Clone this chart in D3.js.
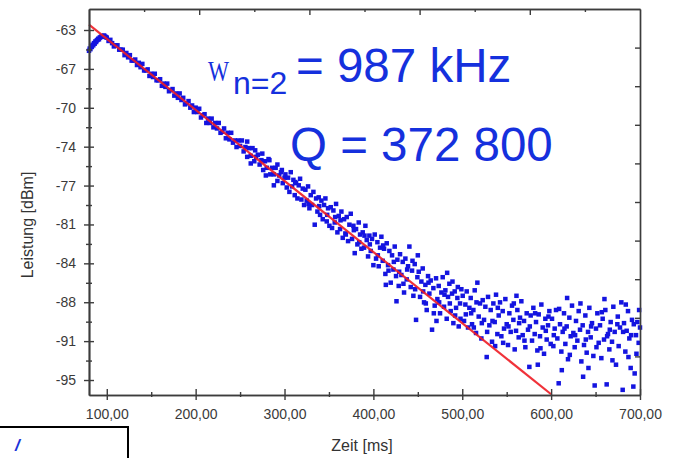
<!DOCTYPE html>
<html><head><meta charset="utf-8">
<script src="https://cdn.jsdelivr.net/npm/d3@7"></script>
<style>html,body{margin:0;padding:0;background:#fff;overflow:hidden}</style>
</head><body>
<svg id="c" width="675" height="458"></svg>
<script>
// ---- data (time in ms, power in dBm) ----
const risePts = [[80,-64.9],[80.8,-64.7],[81.6,-64.75],[82.4,-64.5],[83.2,-64.55],[84,-64.35],[84.8,-64.4],[85.6,-64.2],[86.4,-64.25],[87.2,-64.05],[88,-64.1],[88.8,-63.95],[89.6,-63.9],[90.4,-63.8],[91.2,-63.85],[92,-63.7],[93,-63.65],[94,-63.6],[95,-63.55],[96,-63.6],[97,-63.5],[98,-63.6],[99,-63.65]];
const bandPts = [[100,-63.7],[102,-64.0],[104,-63.9],[106,-64.2],[108,-64.5],[110,-64.4],[112,-64.4],[114,-64.8],[116,-64.8],[118,-64.8],[120,-65.3],[122,-65.1],[124,-65.5],[126,-65.3],[128,-65.8],[130,-65.8],[132,-65.7],[134,-66.2],[136,-66.0],[138,-66.4],[140,-66.1],[142,-66.7],[144,-66.7],[146,-66.6],[148,-67.2],[150,-67.0],[152,-67.3],[154,-67.0],[156,-67.6],[158,-67.6],[160,-67.5],[162,-68.1],[164,-67.9],[166,-68.2],[168,-67.9],[170,-68.6],[172,-68.5],[174,-68.4],[176,-69.0],[178,-68.8],[180,-69.2],[182,-68.8],[184,-69.4],[186,-69.2],[188,-69.8],[190,-69.7],[192,-69.5],[194,-70.1],[196,-69.9],[198,-70.5],[200,-70.1],[202,-70.5],[204,-70.2],[206,-71.0],[208,-70.8],[210,-70.7],[212,-71.5],[214,-71.1],[216,-71.5],[218,-71.1],[220,-71.9],[222,-71.5],[224,-72.0],[226,-71.5],[228,-72.4],[230,-72.3],[232,-72.0],[234,-72.9],[236,-72.4],[238,-73.0],[240,-72.4],[242,-73.3],[244,-73.1],[246,-73.7],[248,-73.1],[250,-73.6],[252,-73.1],[254,-74.1],[256,-73.7],[258,-74.6],[260,-73.8],[262,-74.5],[264,-73.8],[266,-75.0],[268,-74.6],[270,-74.4],[272,-75.3],[274,-74.9],[276,-75.8],[278,-75.0],[280,-75.6],[282,-74.8],[284,-76.2],[286,-75.6],[288,-76.2],[290,-75.6],[292,-76.8],[294,-76.3],[296,-76.0],[298,-77.0],[300,-76.5],
[258,-73.2],[267,-74.0],[275,-74.3],[283,-74.9],[292,-75.3],[297,-75.8],[288,-77.2],[279,-76.3],[262,-75.2]];
const spreadPts = [[301,-76.2],[302.5,-77.4],[304,-76.5],[305.5,-77.8],[307,-76.0],[308.5,-77.3],[310,-76.7],[311.5,-78.1],[313,-77.0],[314.5,-78.4],[316,-77.2],[317.5,-76.6],[319,-78.5],[320.5,-77.5],[322,-79.0],[323.5,-77.6],[325,-78.6],[326.5,-77.3],[328,-79.3],[329.5,-78.1],[331,-79.0],[332.5,-77.8],[334,-80.8],[335.5,-78.4],[337,-79.6],[338.5,-78.3],[340,-79.9],[341.5,-78.6],[343,-80.3],[344.5,-79.0],[346,-78.4],[347.5,-80.5],[349,-79.3],[350.5,-80.9],[352,-79.2],[353.5,-81.1],[355,-79.5],[356.5,-80.6],[358,-78.9],[359.5,-81.5],[361,-80.0],[362.5,-81.2],[364,-79.6],[365.5,-82.0],[367,-80.3],[368.5,-81.6],[370,-80.1],[371.5,-82.3],[373,-80.8],[374.5,-79.8],[376,-82.1],[377.5,-80.9],[379,-83.4],[380.5,-81.2],[382,-82.6],[383.5,-80.6],[385,-81.7],[386.5,-83.0],[388,-81.5],[389.5,-82.9],[391,-80.9],[392.5,-82.2],[394,-83.7],[395.5,-81.8],[397,-83.2],[398.5,-82.1],[400,-84.5],
[312,-76.9],[327,-78.9],[339,-79.1],[348,-79.9],[357,-80.1],[363,-80.4],[369,-81.7],[378,-81.3],[384,-82.4],[390,-81.8],[396,-82.6],
[401.5,-81.7],[403,-83.9],[404.5,-82.4],[406,-84.6],[407.5,-82.9],[409,-81.9],[410.5,-84.1],[412,-83.0],[413.5,-85.3],[415,-82.5],[416.5,-84.5],[418,-83.2],[419.5,-86.1],[421,-83.6],[422.5,-84.9],[424,-82.8],[425.5,-85.5],[427,-84.0],[428.5,-86.4],[430,-83.5],[431.5,-85.4],[433,-84.2],[434.5,-87.0],[436,-83.9],[437.5,-85.8],[439,-84.6],[440.5,-82.8],[442,-86.5],[443.5,-85.0],[445,-87.3],[446.5,-84.4],[448,-89.5],[449.5,-85.6],
[405,-83.6],[411,-82.7],[417,-85.0],[423,-84.2],[429,-85.1],[433.8,-86.2],[438,-84.9],[444,-84.1],[447,-86.7],[450,-83.6],[426,-87.8],[414,-86.3],
[451,-85.1],[452.5,-87.4],[454,-86.0],[455.5,-84.8],[457,-87.9],[458.5,-86.3],[460,-88.6],[461.5,-85.5],[463,-87.1],[464.5,-85.9],[466,-90.4],[467.5,-86.6],[469,-88.2],[470.5,-85.7],[472,-87.6],[473.5,-86.4],[475,-88.9],[476.5,-87.0],[478,-85.6],[479.5,-88.3],[481,-86.8],[482.5,-89.4],[484,-87.4],[485.5,-86.2],[487,-88.7],[488.5,-87.1],[490,-89.8],[491.5,-86.9],[493,-88.4],[494.5,-87.5],[496,-90.1],[497.5,-88.0],[499,-86.7],
[456,-86.9],[462,-86.1],[468,-88.9],[474,-87.9],[480,-87.2],[486,-88.0],[489,-86.0],[492,-89.1],[495,-86.5],[498,-89.4],[483,-85.2],[471,-89.6],[459,-88.0]];
const floorPts = [[500.5,-87.3],[502,-89.6],[503.5,-88.1],[505,-86.9],[506.5,-90.2],[508,-88.4],[509.5,-87.5],[511,-89.9],[512.5,-88.6],[514,-86.8],[515.5,-90.7],[517,-86.1],[518.5,-89.2],[520,-88.0],[521.5,-91.2],[523,-87.7],[524.5,-89.5],[526,-88.3],[527.5,-92.9],[529,-87.4],[530.5,-90.0],[532,-88.6],[533.5,-91.5],[535,-88.0],[536.5,-89.7],[538,-87.2],[539.5,-90.8],[541,-89.1],[542.5,-87.9],[544,-91.0],[545.5,-88.7],[547,-90.3],[548.5,-87.6],[550,-89.9],[551.5,-91.8],[553,-88.9],[554.5,-90.6],[556,-88.2],[557.5,-89.5],[559,-92.2],[560.5,-90.5],[562,-88.6],[563.5,-91.1],[565,-89.3],[566.5,-87.8],[568,-90.9],[569.5,-89.6],[571,-92.0],[572.5,-88.9],[574,-90.4],[575.5,-93.8],[577,-89.1],[578.5,-91.4],[580,-88.4],[581.5,-90.8],[583,-89.7],[584.5,-92.3],[586,-89.0],[587.5,-91.0],[589,-88.1],[590.5,-90.2],[592,-92.6],[593.5,-89.4],[595,-91.3],[596.5,-90.0],[598,-88.7],[599.5,-91.7],
[504,-89.0],[510,-88.9],[516,-87.9],[522,-89.8],[528,-90.6],[534,-89.6],[540,-88.4],[546,-91.6],[552,-90.1],[558,-88.0],[564,-89.8],[570,-91.4],[576,-90.1],[582,-88.9],[588,-92.1],[594,-90.5],[513,-90.2],[537,-91.9],[561,-87.3],[585,-93.6],[597,-89.2],
[601,-89.4],[602.5,-91.9],[604,-90.3],[605.5,-88.6],[607,-91.2],[608.5,-95.3],[610,-89.9],[611.5,-92.4],[613,-90.6],[614.5,-88.9],[616,-91.7],[617.5,-90.1],[619,-93.1],[620.5,-89.3],[622,-91.0],[623.5,-88.2],[625,-90.7],[626.5,-92.0],[628,-89.6],[629.5,-91.4],[631,-88.7],[632.5,-90.4],[634,-93.3],[635.5,-90.0],[637,-91.8],[638.5,-89.1],[640,-92.5],[641.5,-90.6],[643,-88.4],[644.5,-91.1],[646,-89.8],[647.5,-92.8],[649,-95.5],[650.5,-90.3],[652,-88.9],[653.5,-91.6],[655,-90.0],[656.5,-93.0],[658,-89.4],[659.5,-91.3],[661,-88.6],[662.5,-95.4],[664,-90.8],[665.5,-92.2],[667,-89.7],[668.5,-91.5],[670,-88.3],[671.5,-90.6],[673,-93.6],[674.5,-89.9],[676,-91.9],[677.5,-90.2],[679,-87.9],[680.5,-95.9],[682,-89.8],[683.5,-92.4],[685,-90.5],[686.5,-88.7],[688,-91.2],[689.5,-93.9],[691,-89.5],[692.5,-95.6],[694,-94.4],[695.5,-90.9],[697,-89.7],[698.5,-91.6],[700,-90.2],
[603,-90.9],[609,-88.5],[615,-90.3],[621,-92.7],[627,-90.9],[633,-88.0],[639,-91.3],[645,-90.1],[651,-92.0],[657,-88.8],[663,-91.0],[669,-93.2],[675,-89.2],[681,-90.6],[687,-92.9],[693,-89.9],[699,-88.6],[612,-94.1],[636,-94.7],[660,-87.6],[684,-88.1],[696,-92.6],[618,-87.5],[642,-93.9],[666,-90.4],[690,-90.9]];
const fitTime = [80, 600];
const fitPower = [-62.5, -96.3];
const xTickValues = [100, 200, 300, 400, 500, 600, 700];
const xTickLabels = ["100,00", "200,00", "300,00", "400,00", "500,00", "600,00", "700,00"];
const xMinorValues = [150, 250, 350, 450, 550, 650];
const yTickValues = [-63, -66.556, -70.111, -73.667, -77.222, -80.778, -84.333, -87.889, -91.444, -95];
const yTickLabels = ["-63", "-67", "-70", "-74", "-77", "-81", "-84", "-88", "-91", "-95"];
const xDomain = [80, 700];
const yDomain = [-96.37, -61.08];

// ---- drawing ----
const svg = d3.select("#c");
const L = 89, R = 640, T = 9, B = 395;
const x = d3.scaleLinear().domain(xDomain).range([L, R]);
const y = d3.scaleLinear().domain(yDomain).range([B, T]);
const axisColor = "#3c3c3c";
const font = "'Liberation Sans', Arial, sans-serif";

// bottom-left box (partially visible)
svg.append("rect").attr("x", -2).attr("y", 427).attr("width", 130).attr("height", 45)
  .attr("fill", "#fff").attr("stroke", "#000").attr("stroke-width", 2);
svg.append("text").attr("x", 15).attr("y", 451).attr("font-family", font).attr("font-style", "italic")
  .attr("font-weight", "bold").attr("font-size", 17).attr("fill", "#1a33d9").text("/");

// points
const allPts = [...risePts, ...bandPts, ...spreadPts, ...floorPts];
svg.append("g").selectAll("rect").data(allPts).join("rect")
  .attr("x", d => x(d[0]) - 2.25).attr("y", d => y(d[1]) - 2.25)
  .attr("width", 4.5).attr("height", 4.5).attr("fill", "#1414e0");

// fit line
const fitData = fitTime.map((t, i) => [t, fitPower[i]]);
svg.append("path").datum(fitData)
  .attr("d", d3.line().x(d => x(d[0])).y(d => y(d[1])))
  .attr("fill", "none").attr("stroke", "#ee1c24").attr("stroke-width", 2.2).attr("stroke-opacity", 0.9);

function styleAxis(g) {
  g.select(".domain").attr("stroke", axisColor).attr("stroke-width", 1.7);
  g.selectAll(".tick line").attr("stroke", axisColor).attr("stroke-width", 1.4);
  g.selectAll(".tick text").attr("fill", "#3a3a3a").attr("font-family", font).attr("font-size", 14);
}

// top axis (5 divisions) and right axis (10 divisions), no labels
const topScale = d3.scaleLinear().domain([0, 5]).range([L, R]);
const gTop = svg.append("g").attr("transform", `translate(0,${T})`)
  .call(d3.axisTop(topScale).tickValues([1, 2, 3, 4]).tickSize(-6).tickSizeOuter(0).tickFormat(""));
styleAxis(gTop);
const gTopMinor = svg.append("g").attr("transform", `translate(0,${T})`)
  .call(d3.axisTop(topScale).tickValues([0.5, 1.5, 2.5, 3.5, 4.5]).tickSize(-3).tickSizeOuter(0).tickFormat(""));
styleAxis(gTopMinor);

const rightScale = d3.scaleLinear().domain([0, 10]).range([T, B]);
const gRight = svg.append("g").attr("transform", `translate(${R},0)`)
  .call(d3.axisRight(rightScale).tickValues([1,2,3,4,5,6,7,8,9]).tickSize(-5).tickSizeOuter(0).tickFormat(""));
styleAxis(gRight);

// left axis
const gLeft = svg.append("g").attr("transform", `translate(${L},0)`)
  .call(d3.axisLeft(y).tickValues(yTickValues).tickFormat((d, i) => yTickLabels[i]).tickSize(5).tickPadding(8).tickSizeOuter(0));
styleAxis(gLeft);
gLeft.selectAll(".tick line").attr("x1", 5).attr("x2", -5);
const yMinor = d3.pairs(yTickValues).map(p => (p[0] + p[1]) / 2);
const gLeftMinor = svg.append("g").attr("transform", `translate(${L},0)`)
  .call(d3.axisLeft(y).tickValues(yMinor).tickFormat("").tickSize(3).tickSizeOuter(0));
styleAxis(gLeftMinor);
gLeftMinor.selectAll(".tick line").attr("x1", 3).attr("x2", -3);

// bottom axis
const gBottom = svg.append("g").attr("transform", `translate(0,${B})`)
  .call(d3.axisBottom(x).tickValues(xTickValues).tickFormat((d, i) => xTickLabels[i]).tickSize(5).tickPadding(9).tickSizeOuter(0));
styleAxis(gBottom);
gBottom.selectAll(".tick line").attr("y1", -6).attr("y2", 5);
const gBottomMinor = svg.append("g").attr("transform", `translate(0,${B})`)
  .call(d3.axisBottom(x).tickValues(xMinorValues).tickFormat("").tickSize(2).tickSizeOuter(0));
styleAxis(gBottomMinor);
gBottomMinor.selectAll(".tick line").attr("y1", -3).attr("y2", 2);

// axis titles
svg.append("text").attr("transform", "translate(33,225) rotate(-90)").attr("text-anchor", "middle")
  .attr("font-family", font).attr("font-size", 16).attr("fill", "#333").text("Leistung [dBm]");
svg.append("text").attr("x", 362).attr("y", 451).attr("text-anchor", "middle")
  .attr("font-family", font).attr("font-size", 16).attr("fill", "#333").text("Zeit [ms]");

// annotations
const blue = "#1530dd";
svg.append("text").attr("x", 208).attr("y", 81).attr("font-family", "'Liberation Serif', 'DejaVu Serif', serif")
  .attr("font-size", 30).attr("textLength", 21).attr("lengthAdjust", "spacingAndGlyphs").attr("fill", blue).text("W");
svg.append("text").attr("x", 233).attr("y", 94).attr("font-family", font).attr("font-size", 32).attr("fill", blue).text("n=2");
svg.append("text").attr("x", 296).attr("y", 82).attr("font-family", font).attr("font-size", 47.5).attr("fill", blue).text("= 987 kHz");
svg.append("text").attr("x", 290).attr("y", 161).attr("font-family", font).attr("font-size", 47.5).attr("fill", blue).text("Q = 372 800");
</script>
</body></html>
